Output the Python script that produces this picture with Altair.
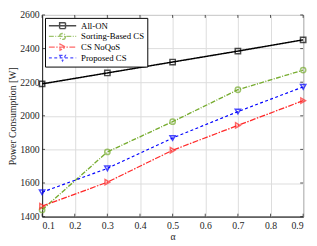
import altair as alt
import pandas as pd

alpha = [0.1, 0.3, 0.5, 0.7, 0.9]
series_names = ["All-ON", "Sorting-Based CS", "CS NoQoS", "Proposed CS"]
all_on = [2190, 2255, 2320, 2385, 2452]
sorting_cs = [1440, 1785, 1965, 2155, 2272]
cs_noqos = [1462, 1605, 1795, 1943, 2090]
proposed_cs = [1545, 1687, 1868, 2025, 2172]
x_ticks = [0.1, 0.2, 0.3, 0.4, 0.5, 0.6, 0.7, 0.8, 0.9]
y_ticks = [1400, 1600, 1800, 2000, 2200, 2400, 2600]

colors = ["#000000", "#77AC30", "#FF2A2A", "#0000FF"]
dashes = [[1, 0], [5, 1.5, 1, 1.5], [6, 1.5, 1.5, 1.5], [3, 2.5]]
widths = [1.5, 1.2, 1.0, 2.0]
marker_shapes = ["square", "circle", "triangle-right", "triangle-down"]
# legend glyphs: a line segment with the marker in its middle (units of 4px)
legend_paths = [
    "M-1,0H6M1.75,-0.75H3.25V0.75H1.75Z",
    "M-1,0H6M3.25,0A0.75,0.75,0,1,1,1.75,0A0.75,0.75,0,1,1,3.25,0",
    "M-1,0H6M1.85,-0.8L3.25,0L1.85,0.8Z",
    "M-1,0H6M1.75,-0.65H3.25L2.5,0.8Z",
]

rows = []
for name, vals in zip(series_names, [all_on, sorting_cs, cs_noqos, proposed_cs]):
    for a, v in zip(alpha, vals):
        rows.append({"alpha": a, "power": v, "series": name})
df = pd.DataFrame(rows)

W, H = 268, 207
FONT = "Liberation Serif"

x_scale = alt.Scale(domain=[0.1, 0.9], nice=False, zero=False)
y_scale = alt.Scale(domain=[1400, 2600], nice=False, zero=False)
x_axis = alt.Axis(values=x_ticks, format=".1f", title="α", ticks=False,
                  labelPadding=4, titlePadding=2, labelOverlap=False)
y_axis = alt.Axis(values=y_ticks, format="d", title="Power Consumption [W]",
                  ticks=False, labelPadding=3, titlePadding=2, labelOverlap=False)

X = alt.X("alpha:Q", scale=x_scale, axis=x_axis)
Y = alt.Y("power:Q", scale=y_scale, axis=y_axis)
color_scale = alt.Scale(domain=series_names, range=colors)

base = alt.Chart(df)

lines = base.mark_line().encode(
    x=X, y=Y,
    color=alt.Color("series:N", scale=color_scale),
    strokeDash=alt.StrokeDash("series:N", scale=alt.Scale(domain=series_names, range=dashes)),
    strokeWidth=alt.StrokeWidth("series:N", scale=alt.Scale(domain=series_names, range=widths), legend=None),
)

point_layers = []
for name, shp in zip(series_names, marker_shapes):
    point_layers.append(
        base.mark_point(shape=shp, filled=False, size=30, strokeWidth=1.5)
        .transform_filter(alt.datum.series == name)
        .encode(x=X, y=Y, color=alt.Color("series:N", scale=color_scale))
    )

legend_layer = base.mark_point(filled=False, strokeWidth=1.2).encode(
    x=X, y=Y,
    opacity=alt.value(0),
    color=alt.Color("series:N", scale=color_scale,
                    legend=alt.Legend(title=None, orient="top-left", offset=3,
                                      symbolSize=64, symbolStrokeWidth=1.3,
                                      symbolOpacity=1, labelFont=FONT,
                                      labelFontSize=9, labelColor="#000000",
                                      strokeColor="#000000", fillColor="white",
                                      padding=3, rowPadding=-2, labelOffset=24)),
    shape=alt.Shape("series:N", scale=alt.Scale(domain=series_names, range=legend_paths)),
    strokeDash=alt.StrokeDash("series:N", scale=alt.Scale(domain=series_names, range=dashes)),
)

xt = pd.DataFrame({"v": x_ticks})
yt = pd.DataFrame({"v": y_ticks})
tx = alt.X("v:Q", scale=x_scale, axis=x_axis)
ty = alt.Y("v:Q", scale=y_scale, axis=y_axis)
tick_layers = [
    alt.Chart(xt).mark_rule(color="#262626", strokeWidth=0.8).encode(x=tx, y=alt.value(H), y2=alt.value(H - 3)),
    alt.Chart(xt).mark_rule(color="#262626", strokeWidth=0.8).encode(x=tx, y=alt.value(0), y2=alt.value(3)),
    alt.Chart(yt).mark_rule(color="#262626", strokeWidth=0.8).encode(y=ty, x=alt.value(0), x2=alt.value(3)),
    alt.Chart(yt).mark_rule(color="#262626", strokeWidth=0.8).encode(y=ty, x=alt.value(W), x2=alt.value(W - 3)),
]

chart = alt.layer(lines, *point_layers, legend_layer, *tick_layers).properties(
    width=W, height=H,
    autosize=alt.AutoSizeParams(type="none"),
    padding={"left": 35, "top": 4, "right": 6, "bottom": 27},
).configure_view(
    stroke="#262626", strokeWidth=1,
).configure_axis(
    labelFont=FONT, labelFontSize=10, labelColor="#262626", labelOverlap=False,
    titleFont=FONT, titleFontSize=10, titleColor="#262626", titleFontWeight="normal",
    gridColor="#DCDCDC", gridWidth=1, domainColor="#262626", domainWidth=1,
)

chart.save("out.html", embed_options={"renderer": "svg", "actions": False})
